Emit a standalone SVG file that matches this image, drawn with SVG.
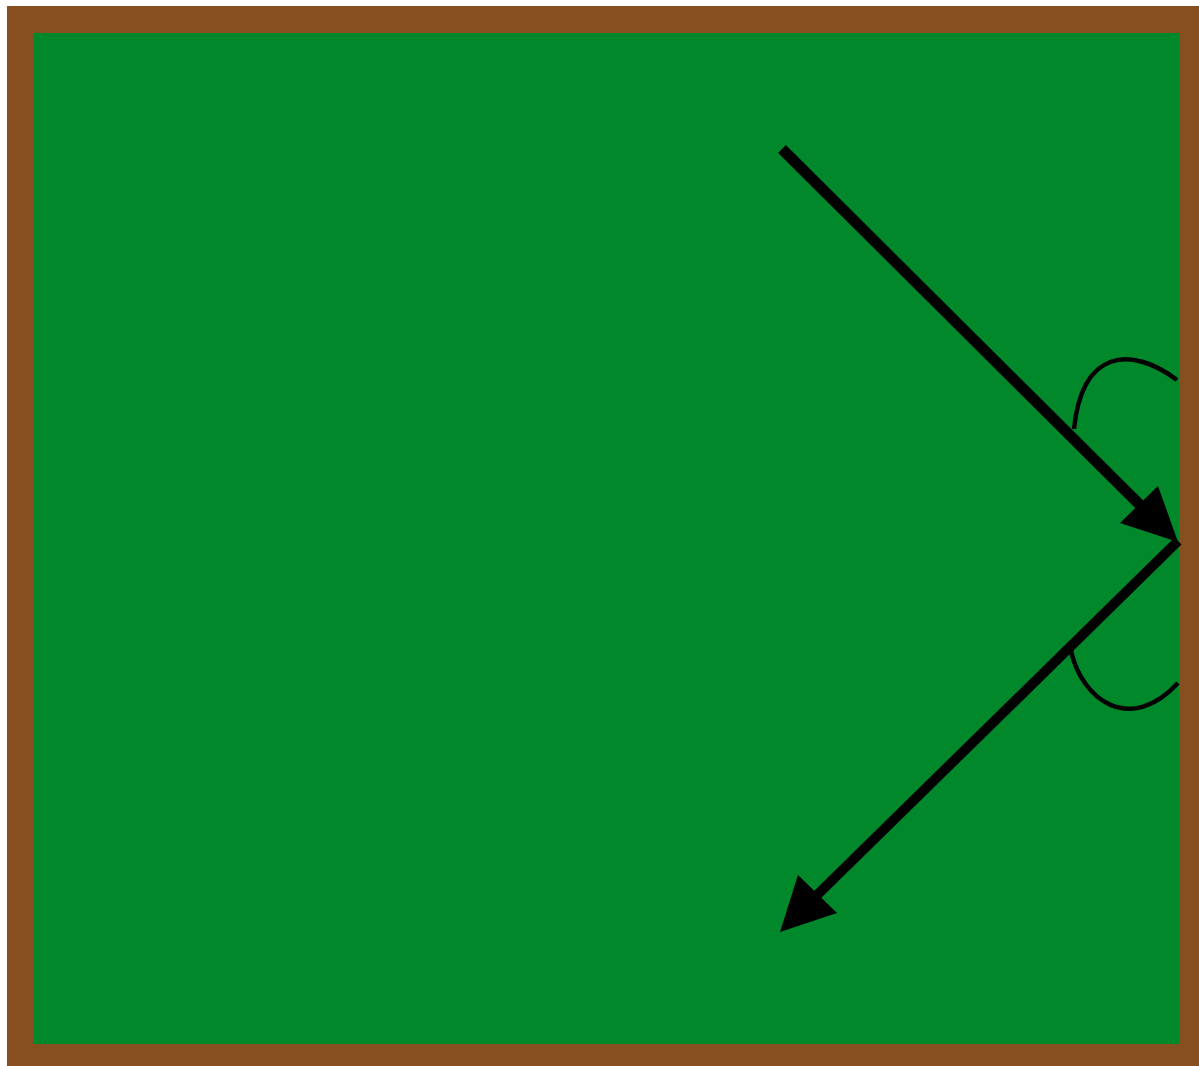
<svg xmlns="http://www.w3.org/2000/svg" width="1199" height="1066" viewBox="0 0 1199 1066">
  <style>
    .arrow { stroke: #000; stroke-width: 11; fill: none; }
    .arc { stroke: #000; stroke-width: 4.5; fill: none; }
    .head { fill: #000; }
  </style>
  <g id="board">
    <rect x="20.5" y="19.5" width="1172" height="1038" fill="#00882B" stroke="#874E20" stroke-width="27"/>
  </g>
  <g id="connectors">
    <line class="arrow" x1="782" y1="149" x2="1145" y2="510"/>
    <polygon class="head" points="1178,542 1158,486 1120,523"/>
    <line class="arrow" style="stroke-width:10" x1="1178" y1="541" x2="814" y2="898"/>
    <polygon class="head" points="780,932 798,875 837,913"/>
    <path class="arc" d="M1074,429 C1082,350 1130,345 1177,380"/>
    <path class="arc" d="M1071,651 C1082,700 1130,735 1178,683"/>
  </g>
</svg>
